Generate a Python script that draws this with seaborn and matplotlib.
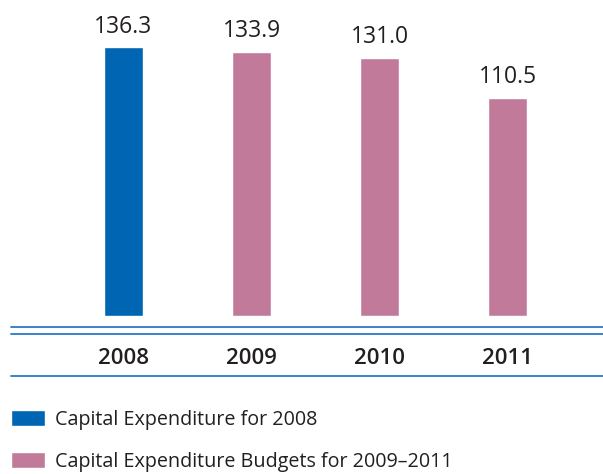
import matplotlib
matplotlib.use("Agg")
import matplotlib.pyplot as plt
from matplotlib.lines import Line2D
import seaborn as sns
import pandas as pd

# ==========================================
# DATA
# ==========================================

years = ["2008", "2009", "2010", "2011"]
values = [136.3, 133.9, 131.0, 110.5]
series = [
    "Capital Expenditure for 2008",
    "Capital Expenditure Budgets for 2009\u20132011",
    "Capital Expenditure Budgets for 2009\u20132011",
    "Capital Expenditure Budgets for 2009\u20132011",
]
value_labels = ["136.3", "133.9", "131.0", "110.5"]

BLUE = "#0066b3"
PINK = "#c27a9b"
LINE = "#2a78c4"

df = pd.DataFrame({"year": years, "value": values, "series": series})

# ==========================================
# PLOT
# ==========================================

sns.set_style("white")
plt.rcParams["font.family"] = ["Open Sans", "DejaVu Sans"]

fig = plt.figure(figsize=(6.03, 4.74), dpi=100)
ax = fig.add_axes([59.5 / 603, 158 / 474, 512 / 603, 295.5 / 474])

sns.barplot(
    data=df, x="year", y="value", hue="series",
    palette=[BLUE, PINK], dodge=False, width=0.305,
    saturation=1, ax=ax,
)

ax.set_ylim(0, 150)
ax.set_xlim(-0.5, 3.5)
ax.set_xlabel("")
ax.set_ylabel("")
ax.set_yticks([])
for s in ax.spines.values():
    s.set_visible(False)

ax.tick_params(axis="x", length=0, pad=23, labelsize=16, labelcolor="#231f20")
for t in ax.get_xticklabels():
    t.set_fontweight("semibold")

for i, lab in enumerate(value_labels):
    ax.text(i, values[i] + 4.5, lab, ha="center", va="bottom",
            fontsize=16.5, color="#231f20", clip_on=False)

# double rule under bars and single rule under years
for ypix in [327, 333.5, 376]:
    yf = 1 - ypix / 474
    fig.add_artist(Line2D([11 / 603, 1], [yf, yf], color=LINE, lw=1.3))

sns.move_legend(
    ax, "upper left", bbox_to_anchor=(3 / 603, 1 - 402 / 474),
    bbox_transform=fig.transFigure, title=None, frameon=False,
    fontsize=14.2, handlelength=1.75, handleheight=0.85,
    handletextpad=0.5, labelspacing=1.1, borderaxespad=0,
)
for t in ax.get_legend().get_texts():
    t.set_color("#231f20")

fig.savefig("out.png", dpi=100)
